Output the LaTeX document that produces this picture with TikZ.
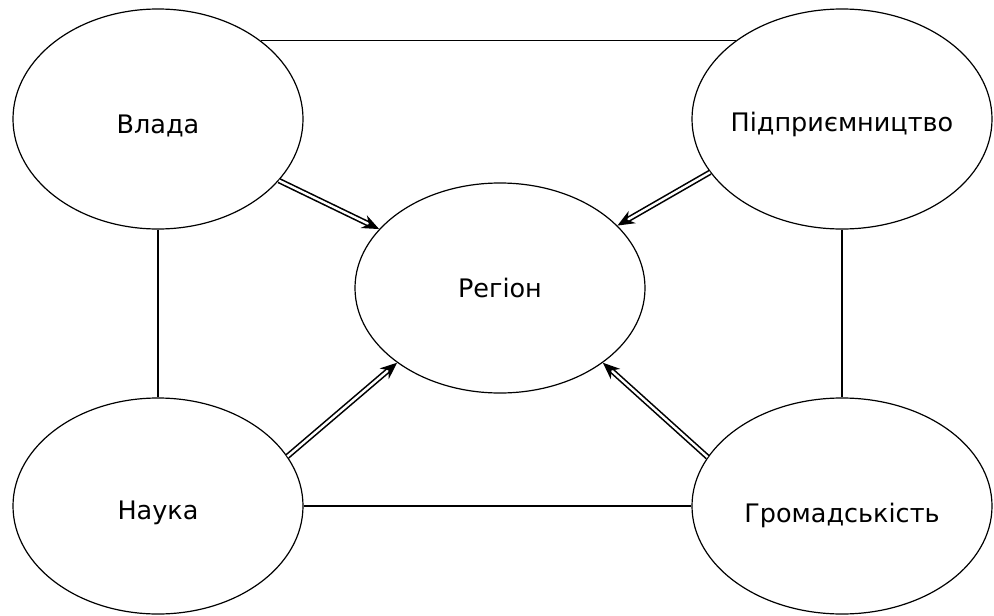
\documentclass[tikz,border=0pt]{standalone}
\usepackage{fontspec}
\setmainfont{DejaVu Sans}
\usetikzlibrary{shapes.geometric,arrows.meta}
\begin{document}
\begin{tikzpicture}[x=1pt,y=-1pt,
  oval/.style={draw, ellipse, line width=1.2pt, inner ysep=0pt, inner xsep=-40pt, font=\fontsize{25.5}{30}\selectfont},
  lowtext/.style={text height=#1, text depth=0pt},
  link/.style={line width=1.2pt},
  infl/.style={double, double distance=2.4pt, line width=1.6pt, -{Stealth[length=17pt,width=14pt]}},
]
\useasboundingbox[fill=white] (0,0) rectangle (994,616);
\node[oval, lowtext=28pt, minimum width=290pt, minimum height=220pt] (vlada) at (158,119) {Влада};
\node[oval, lowtext=25pt, minimum width=300pt, minimum height=220pt] (pidpr) at (842,119) {Підприємництво};
\node[oval, minimum width=290pt, minimum height=210pt] (region) at (500,288) {Регіон};
\node[oval, lowtext=27pt, minimum width=290pt, minimum height=216pt] (nauka) at (158,506) {Наука};
\node[oval, lowtext=32pt, minimum width=300pt, minimum height=216pt] (hrom) at (842,506) {Громадськість};
\draw[link] (vlada.north east) -- (pidpr.north west);
\draw[link] (vlada.south) -- (nauka.north);
\draw[link] (pidpr.south) -- (hrom.north);
\draw[link] (nauka.east) -- (hrom.west);
\draw[infl] (vlada.-27) -- (region.154);
\draw[infl] (pidpr.202) -- (region.28);
\draw[infl] (nauka.21) -- (region.216);
\draw[infl] (hrom.160) -- (region.324);
\end{tikzpicture}
\end{document}
